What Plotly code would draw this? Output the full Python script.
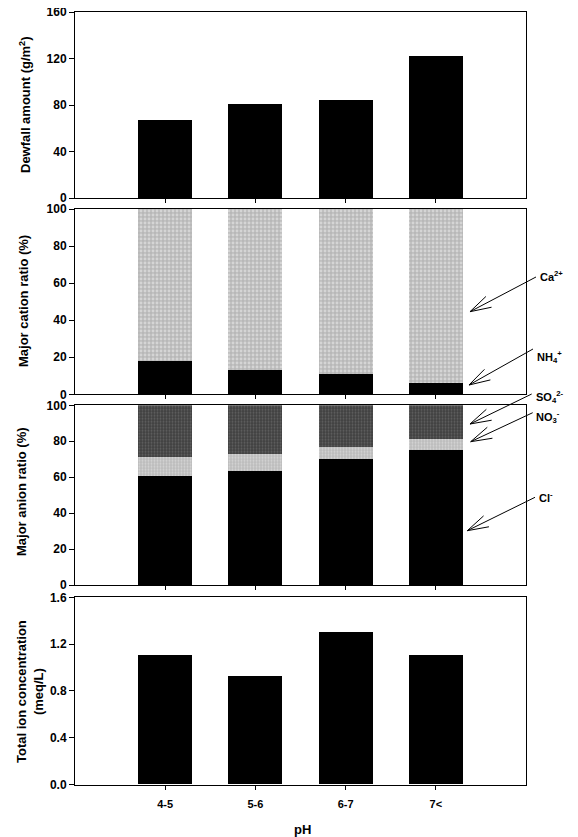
import math
import plotly.graph_objects as go
from plotly.subplots import make_subplots

# ---------------- data ----------------
ph_classes = ["4-5", "5-6", "6-7", "7<"]
dewfall_amount = [67, 81, 84, 122]          # g/m2
nh4_ratio = [18, 13, 11, 6]                 # % of major cations
ca_ratio = [82, 87, 89, 94]
cl_ratio = [60.5, 63.5, 70, 75]             # % of major anions
no3_ratio = [11, 9.5, 6.7, 6.3]
so4_ratio = [28.5, 27, 23.3, 18.7]
total_ion = [1.11, 0.93, 1.30, 1.11]        # meq/L

top_ticks = [0, 40, 80, 120, 160]
ratio_ticks = [0, 20, 40, 60, 80, 100]
ion_ticks = [0.0, 0.4, 0.8, 1.2, 1.6]

# ---------------- geometry ----------------
OFF = 8                      # page body margin in the browser
W, H = 578 - OFF, 837 - OFF
ML, MR, MT, MB = 67, 52, 4, 52
PW, PH = W - ML - MR, H - MT - MB
FONT = "Liberation Sans, Arial, sans-serif"


def px_x(x):
    return (x - OFF - ML) / PW


def px_y(y):
    return (H - MB - (y - OFF)) / PH


def clamp(v):
    return min(1.0, max(0.0, v))


fig = make_subplots(rows=4, cols=1, vertical_spacing=0.02)

bar_w = 0.6
fig.add_trace(go.Bar(x=ph_classes, y=dewfall_amount, width=bar_w,
                     marker=dict(color="black", line=dict(width=0))), row=1, col=1)

fig.add_trace(go.Bar(x=ph_classes, y=nh4_ratio, width=bar_w,
                     marker=dict(color="black", line=dict(width=0))), row=2, col=1)
fig.add_trace(go.Bar(x=ph_classes, y=ca_ratio, width=bar_w,
                     marker=dict(color="#c2c2c2", line=dict(width=0),
                                 pattern=dict(shape=".", fgcolor="#f2f2f2",
                                              bgcolor="#b8b8b8", size=4, solidity=0.4))),
              row=2, col=1)

fig.add_trace(go.Bar(x=ph_classes, y=cl_ratio, width=bar_w,
                     marker=dict(color="black", line=dict(width=0))), row=3, col=1)
fig.add_trace(go.Bar(x=ph_classes, y=no3_ratio, width=bar_w,
                     marker=dict(color="#c8c8c8", line=dict(width=0),
                                 pattern=dict(shape=".", fgcolor="#eeeeee",
                                              bgcolor="#bdbdbd", size=3, solidity=0.3))),
              row=3, col=1)
fig.add_trace(go.Bar(x=ph_classes, y=so4_ratio, width=bar_w,
                     marker=dict(color="#555555", line=dict(width=0),
                                 pattern=dict(shape=".", fgcolor="#858585",
                                              bgcolor="#3f3f3f", size=3, solidity=0.35))),
              row=3, col=1)

fig.add_trace(go.Bar(x=ph_classes, y=total_ion, width=bar_w,
                     marker=dict(color="black", line=dict(width=0))), row=4, col=1)

# panel domains (pixel rows of the reference)
domains = [
    (px_y(198), px_y(12)),
    (px_y(394.3), px_y(209)),
    (px_y(585), px_y(405.3)),
    (px_y(784.5), px_y(597.3)),
]
yranges = [[0, 160], [0, 100], [0, 100], [0, 1.6]]
yticks = [top_ticks, ratio_ticks, ratio_ticks, ion_ticks]
yfmt = ["", "", "", ".1f"]

tickfont = dict(family=FONT, size=12, color="black", weight="bold")
for i in range(4):
    n = "" if i == 0 else str(i + 1)
    fig.layout["yaxis" + n].update(
        domain=[clamp(domains[i][0]), clamp(domains[i][1])], range=yranges[i],
        tickvals=yticks[i],
        tickformat=yfmt[i], ticks="outside", ticklen=5, tickwidth=1,
        tickcolor="black", showline=True, linecolor="black", linewidth=1,
        mirror=True, showgrid=False, zeroline=False, tickfont=tickfont,
        ticklabeloverflow="allow", fixedrange=True)
    fig.layout["xaxis" + n].update(
        domain=[0, 1], range=[-1, 4], type="category",
        ticks="outside", ticklen=4, tickwidth=1, tickcolor="black",
        showline=True, linecolor="black", linewidth=1, mirror=True,
        showgrid=False, zeroline=False,
        showticklabels=(i == 3),
        tickfont=dict(family=FONT, size=11, color="black", weight="bold"),
        ticklabelstandoff=5, fixedrange=True)

fig.update_layout(
    width=W, height=H, barmode="stack", bargap=0.4, showlegend=False,
    margin=dict(l=ML, r=MR, t=MT, b=MB, autoexpand=False),
    plot_bgcolor="white", paper_bgcolor="white",
    font=dict(family=FONT, color="black"),
)

titlefont = dict(family=FONT, size=13, color="black", weight="bold")
annos = []
# y axis titles
y_titles = [
    ("Dewfall amount (g/m<sup>2</sup>)", 25, 105),
    ("Major cation ratio (%)", 23, 301),
    ("Major anion ratio (%)", 21, 492),
    ("Total ion concentration<br>(meq/L)", 30, 692),
]
for text, x, y in y_titles:
    annos.append(dict(text=text, x=px_x(x), y=px_y(y), xref="paper", yref="paper",
                      xanchor="center", yanchor="middle", textangle=-90,
                      showarrow=False, font=titlefont))
# x title
annos.append(dict(text="pH", x=px_x(302), y=px_y(829), xref="paper", yref="paper",
                  xanchor="center", yanchor="middle", showarrow=False, font=titlefont))

# ion labels with arrows (label pos, tail, tip in reference pixels)
ion_labels = [
    ("Ca<sup>2+</sup>", (538, 276), (536, 277), (470, 311.7)),
    ("NH<sub>4</sub><sup>+</sup>", (535, 357), (533, 349), (469, 385)),
    ("SO<sub>4</sub><sup>2-</sup>", (534, 397), (531.7, 394), (470, 424)),
    ("NO<sub>3</sub><sup>-</sup>", (534, 417), (532.7, 412.7), (470.7, 441.7)),
    ("Cl<sup>-</sup>", (537, 497), (535, 497.3), (467.3, 530.7)),
]
labfont = dict(family=FONT, size=11, color="black", weight="bold")
shapes = []
for text, (lx, ly), (tx, ty), (hx, hy) in ion_labels:
    annos.append(dict(text=text, x=px_x(lx), y=px_y(ly), xref="paper", yref="paper",
                      xanchor="left", yanchor="middle", showarrow=False, font=labfont))
    dx, dy = tx - hx, ty - hy
    L = math.hypot(dx, dy)
    ux, uy = dx / L, dy / L
    arms = []
    for s in (1, -1):
        a = math.radians(16) * s
        rx = ux * math.cos(a) - uy * math.sin(a)
        ry = ux * math.sin(a) + uy * math.cos(a)
        arms.append((hx + 22 * rx, hy + 22 * ry))
    pts = lambda x, y: f"{px_x(x):.5f},{px_y(y):.5f}"
    path = (f"M{pts(tx, ty)} L{pts(hx, hy)} M{pts(*arms[0])} L{pts(hx, hy)} "
            f"L{pts(*arms[1])}")
    shapes.append(dict(type="path", path=path, xref="paper", yref="paper",
                       line=dict(color="black", width=1)))

fig.update_layout(annotations=annos, shapes=shapes)

fig.write_html("out.html")
